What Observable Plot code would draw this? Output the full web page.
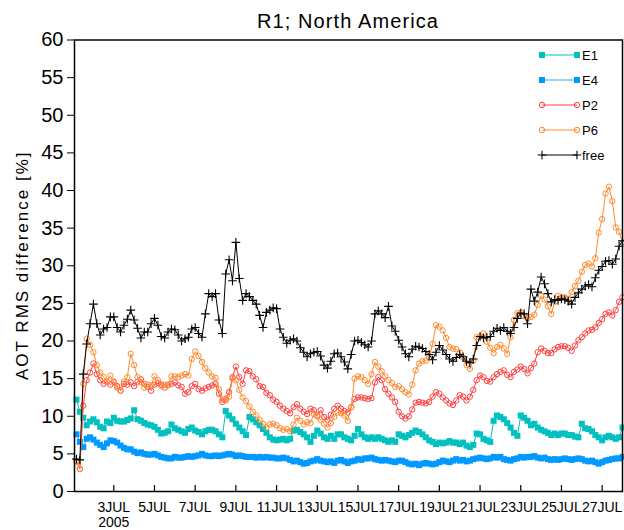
<!DOCTYPE html>
<html><head><meta charset="utf-8">
<script src="https://cdn.jsdelivr.net/npm/d3@7"></script>
<script src="https://cdn.jsdelivr.net/npm/@observablehq/plot@0.6"></script>
<style>
body{margin:0;background:#fff;}
#chart svg{font-family:"Liberation Sans",Arial,sans-serif;background:#fff;}
</style></head><body><div id="chart"></div>
<script>
const title = "R1; North America";
const yLabel = "AOT RMS difference [%]";
const seriesNames = ["E1", "E4", "P2", "P6", "free"];
const startTime = Date.UTC(2005, 6, 1, 4);   // first sample, 4-hourly series
const stepHours = 4;
const xDomain = [Date.UTC(2005, 6, 1, 1, 40), Date.UTC(2005, 6, 28)];
const tickDays = [3, 5, 7, 9, 11, 13, 15, 17, 19, 21, 23, 25, 27];
const tickMonth = "JUL";
const yearLabel = "2005";
const yTicks = [0, 5, 10, 15, 20, 25, 30, 35, 40, 45, 50, 55, 60];

const e1 = [12.2,10.6,9.8,8.8,9.3,9.6,9.2,8.6,8.4,9.3,9.1,9.8,9.4,9.3,9.3,9.5,9.7,10.8,9.6,9.4,9.1,8.9,8.8,8.6,8.2,7.7,7.8,8.0,8.9,8.4,8.2,8.0,
 7.8,8.3,8.5,8.1,7.9,7.6,8.0,8.2,8.2,8.0,7.6,7.2,10.7,10.1,9.6,9.0,8.5,8.0,7.5,9.9,9.6,9.2,8.8,8.3,7.8,7.2,6.9,6.8,6.9,7.0,6.8,
 7.0,8.1,8.2,7.9,7.6,7.2,6.6,7.4,8.1,7.7,7.2,7.0,7.4,7.0,7.6,7.6,7.2,7.0,6.8,7.4,8.3,7.6,7.2,7.0,7.2,7.0,7.2,7.0,6.8,6.6,6.8,6.6,
 7.6,7.4,7.2,7.5,7.8,8.1,7.9,7.6,7.2,6.8,6.6,6.3,6.5,6.4,6.5,6.7,6.5,6.5,6.3,6.5,6.1,5.9,6.2,7.7,7.6,7.0,6.8,6.6,9.4,10.1,9.9,
 9.6,9.1,8.5,7.8,7.4,10.1,9.8,9.4,8.8,9.0,8.5,8.2,8.0,7.8,7.5,7.7,7.5,7.7,7.7,7.5,7.5,7.3,7.2,9.0,8.4,8.3,8.0,7.5,7.2,6.8,7.2,7.4,7.2,7.0,7.2,8.5];

const e4 = [7.6,6.6,5.9,7.0,7.2,6.9,6.5,6.2,5.9,6.4,6.8,6.7,6.5,6.1,5.8,5.6,5.6,5.3,5.1,5.2,5.0,4.9,4.9,5.0,4.8,4.6,4.5,4.4,4.4,4.6,4.5,4.5,
 4.6,4.7,4.6,4.7,4.8,5.0,4.8,4.7,4.7,4.8,4.7,4.8,4.9,5.0,4.9,4.7,4.8,4.7,4.6,4.6,4.6,4.5,4.6,4.5,4.6,4.5,4.5,4.4,4.4,4.5,4.4,
 4.2,4.0,4.1,3.9,3.7,3.8,4.0,4.1,4.3,4.1,4.0,3.9,4.0,3.8,4.1,4.2,4.0,3.8,4.0,4.1,4.3,4.2,4.4,4.4,4.5,4.3,4.2,4.1,4.2,4.1,4.0,3.9,
 4.1,4.1,3.9,3.7,3.6,3.7,3.5,3.7,3.8,3.7,3.6,3.7,3.9,4.1,4.0,3.9,4.1,4.3,4.1,4.2,4.0,4.1,4.3,4.4,4.5,4.4,4.3,4.4,4.6,4.5,4.6,
 4.3,4.2,4.1,4.3,4.4,4.6,4.5,4.6,4.6,4.7,4.5,4.4,4.5,4.3,4.2,4.3,4.2,4.3,4.4,4.3,4.2,4.3,4.4,4.3,4.1,4.0,4.1,3.9,3.7,3.9,4.1,4.2,4.3,4.4,4.4,4.6];

const p2 = [4.0,3.0,11.4,14.8,15.8,17.0,15.6,14.8,14.3,14.6,14.2,14.6,14.0,13.4,14.3,14.2,14.5,14.0,14.6,14.9,14.3,13.9,13.4,14.2,14.4,14.2,13.8,14.2,14.3,14.5,14.1,13.9,
 13.0,13.2,14.0,14.3,13.6,13.4,13.7,13.9,14.1,14.3,13.0,11.9,12.3,13.2,15.2,16.6,15.2,14.3,16.1,16.0,15.3,14.9,14.0,13.9,13.1,12.8,12.2,11.9,11.4,11.0,10.7,
 10.4,11.2,11.6,11.0,10.6,10.3,11.0,10.8,10.1,10.8,9.9,9.5,10.2,11.0,11.4,11.0,10.7,10.5,11.2,12.3,12.5,12.5,12.4,12.3,12.4,14.5,15.2,14.8,13.6,13.0,12.5,11.9,
 10.6,10.0,9.7,10.0,10.9,11.8,11.9,11.8,11.7,11.9,12.6,13.2,13.0,12.5,12.1,11.7,11.5,12.1,12.8,12.6,12.1,12.6,13.5,14.8,15.4,15.2,14.7,14.6,15.2,15.6,15.9,
 16.1,15.5,15.2,15.9,16.2,16.6,16.3,15.7,16.4,17.0,18.5,19.0,18.7,18.4,18.4,18.9,19.2,19.3,19.3,19.1,18.7,19.4,20.1,20.5,21.0,21.4,21.5,21.8,22.4,22.9,23.6,23.8,23.4,24.1,25.2,25.8];

const p6 = [4.0,3.0,14.3,20.3,19.5,18.5,16.8,15.8,15.2,14.6,15.4,14.5,13.8,13.4,14.6,15.2,18.3,16.8,15.2,14.5,13.8,14.2,14.1,15.3,14.8,14.0,14.2,14.1,15.3,15.3,15.2,15.4,
 15.6,15.4,17.6,18.6,18.0,17.2,16.4,15.8,15.3,15.1,13.6,12.2,12.1,12.6,15.0,14.8,13.5,12.5,12.0,11.3,10.6,10.1,9.5,9.0,8.5,8.9,9.0,8.8,8.4,8.2,8.3,
 8.0,8.9,9.8,9.4,8.9,9.2,9.1,10.3,10.0,9.5,9.0,8.5,9.1,9.9,10.5,10.4,10.1,9.4,11.2,15.0,15.3,15.2,14.8,14.3,15.6,17.2,16.6,16.0,15.3,14.8,14.4,13.9,
 14.0,13.6,13.2,12.9,14.2,16.1,17.0,17.3,17.4,17.8,19.6,22.1,21.9,21.4,20.4,19.2,19.0,18.9,18.5,17.8,16.8,16.3,17.4,20.5,20.6,21.0,19.9,19.1,18.4,19.2,19.5,
 19.0,18.3,20.5,22.8,23.7,23.8,23.3,23.0,23.2,23.5,24.8,26.0,25.5,24.6,23.6,25.2,26.0,25.8,25.8,25.6,26.5,27.3,28.0,29.2,30.1,30.3,29.9,31.0,34.4,36.2,39.6,40.5,38.6,35.1,34.5,33.1];

const free = [4.3,4.2,15.6,19.6,22.3,24.9,22.3,20.8,21.6,21.8,23.2,23.2,21.8,21.2,22.1,22.9,24.1,22.8,21.7,20.4,21.2,21.2,22.3,23.0,22.1,20.6,20.4,21.2,21.6,21.5,20.8,20.0,
 20.3,20.5,21.6,21.8,21.0,20.5,23.6,26.3,25.9,26.3,22.8,21.0,28.9,30.8,28.0,33.1,28.3,25.4,26.3,25.9,25.4,24.9,23.4,21.8,23.8,24.1,24.4,24.3,21.6,20.5,19.7,
 20.1,20.3,20.0,19.1,18.5,17.9,18.3,18.5,18.6,18.0,16.8,16.4,17.3,18.3,18.4,17.9,17.2,16.3,18.2,20.0,20.1,19.8,19.5,19.2,20.0,23.6,24.0,23.6,23.1,24.6,22.0,21.3,
 20.1,19.2,18.3,17.9,18.9,19.3,19.2,19.0,18.6,18.2,17.5,18.5,19.4,18.8,18.2,17.6,17.3,17.8,18.2,17.9,17.3,17.1,17.6,19.4,20.6,20.4,20.5,20.6,21.3,21.7,21.4,
 21.8,21.3,21.0,21.8,23.0,23.7,23.6,22.3,26.9,25.3,26.5,28.5,27.6,26.3,25.2,25.5,25.4,25.6,25.5,25.3,24.9,25.8,26.4,26.9,27.3,27.5,27.2,28.4,29.4,29.9,30.6,30.7,30.2,30.9,32.6,33.3];

const seriesValues = {E1: e1, E4: e4, P2: p2, P6: p6, free: free};
const style = {
  E1:   {symbol: "square", color: "#00c0c0", line: "#00c0c0", filled: true,  r: 3.4, sw: 1},
  E4:   {symbol: "square", color: "#0099ff", line: "#3aa6ff", filled: true,  r: 3.4, sw: 1},
  P2:   {symbol: "circle", color: "#ff4040", line: "#ff4040", filled: false, r: 2.7, sw: 1},
  P6:   {symbol: "circle", color: "#ff8a2e", line: "#ff8a2e", filled: false, r: 2.7, sw: 1},
  free: {symbol: "plus",   color: "#000000", line: "#000000", filled: false, r: 2.9, sw: 1.1}
};

const rows = seriesNames.flatMap(name => seriesValues[name].map((v, i) => ({
  series: name, time: new Date(startTime + i * stepHours * 3600e3), value: v
})));
const tickDates = tickDays.map(d => new Date(Date.UTC(2005, 6, d)));

const W = 624, H = 530, mL = 74, mR = 2, mT = 39.5, mB = 39;
const plotH = H - mT - mB;
const FONT = "Liberation Sans, Arial, sans-serif";

const marks = [];
for (const n of seriesNames) {
  const s = style[n];
  const data = rows.filter(d => d.series === n);
  marks.push(Plot.line(data, {x: "time", y: "value", stroke: s.line, strokeWidth: 1}));
  marks.push(Plot.dot(data, {
    x: "time", y: "value", symbol: s.symbol, r: s.r,
    fill: s.filled ? s.color : "none",
    stroke: s.filled ? "none" : s.color,
    strokeWidth: s.sw
  }));
}

const symbolType = {square: d3.symbolSquare, circle: d3.symbolCircle, plus: d3.symbolPlus};
function legend(index, scales, values, dims) {
  const g = d3.create("svg:g").attr("font-size", 13).attr("font-family", FONT);
  const xr = dims.width - dims.marginRight;
  const x1 = xr - 80, x2 = xr - 45;
  seriesNames.forEach((n, i) => {
    const s = style[n];
    const y = dims.marginTop + 15.5 + i * 25;
    g.append("line").attr("x1", x1).attr("x2", x2).attr("y1", y).attr("y2", y)
      .attr("stroke", s.line).attr("stroke-width", 1);
    for (const x of [x1, x2]) {
      g.append("path")
        .attr("d", d3.symbol(symbolType[s.symbol], Math.PI * s.r * s.r)())
        .attr("transform", `translate(${x},${y})`)
        .attr("fill", s.filled ? s.color : "none")
        .attr("stroke", s.filled ? "none" : s.color)
        .attr("stroke-width", s.sw);
    }
    g.append("text").attr("x", x2 + 5).attr("y", y).attr("dy", "0.35em")
      .attr("text-anchor", "start").attr("fill", "black").text(n);
  });
  return g.node();
}

function labels(index, scales, values, dims) {
  const g = d3.create("svg:g").attr("font-family", FONT).attr("fill", "black");
  const cx = dims.marginLeft + (dims.width - dims.marginLeft - dims.marginRight) / 2;
  const cy = dims.marginTop + (dims.height - dims.marginTop - dims.marginBottom) / 2;
  g.append("text").attr("x", cx).attr("y", dims.marginTop - 12)
    .attr("text-anchor", "middle").attr("font-size", 20).attr("letter-spacing", 1.1).text(title);
  g.append("text").attr("transform", `translate(${dims.marginLeft - 52},${cy}) rotate(-90)`)
    .attr("dy", "0.35em").attr("text-anchor", "middle").attr("font-size", 17)
    .attr("letter-spacing", 2).text(yLabel);
  return g.node();
}

const chart = Plot.plot({
  width: W, height: H,
  marginLeft: mL, marginRight: mR, marginTop: mT, marginBottom: mB,
  style: {fontFamily: FONT, background: "#fff"},
  x: {type: "utc", domain: xDomain.map(d => new Date(d))},
  y: {domain: [0, 60]},
  marks: [
    ...marks,
    Plot.frame({stroke: "black", strokeWidth: 1.5}),
    Plot.axisY(yTicks, {tickSize: 7, tickPadding: 4, fontSize: 20, label: null, stroke: "black"}),
    Plot.axisX(tickDates, {tickSize: 0, tickPadding: 11, fontSize: 14, label: null,
      tickFormat: d => d.getUTCDate() + tickMonth}),
    Plot.ruleX(tickDates, {x: d => d, insetTop: plotH - 6, stroke: "black", strokeWidth: 1.2}),
    Plot.text([tickDates[0]], {x: d => d, frameAnchor: "bottom", text: () => yearLabel, dy: 26, fontSize: 14, lineAnchor: "top"}),
    labels,
    legend
  ]
});
document.getElementById("chart").append(chart);
</script>
</body></html>
